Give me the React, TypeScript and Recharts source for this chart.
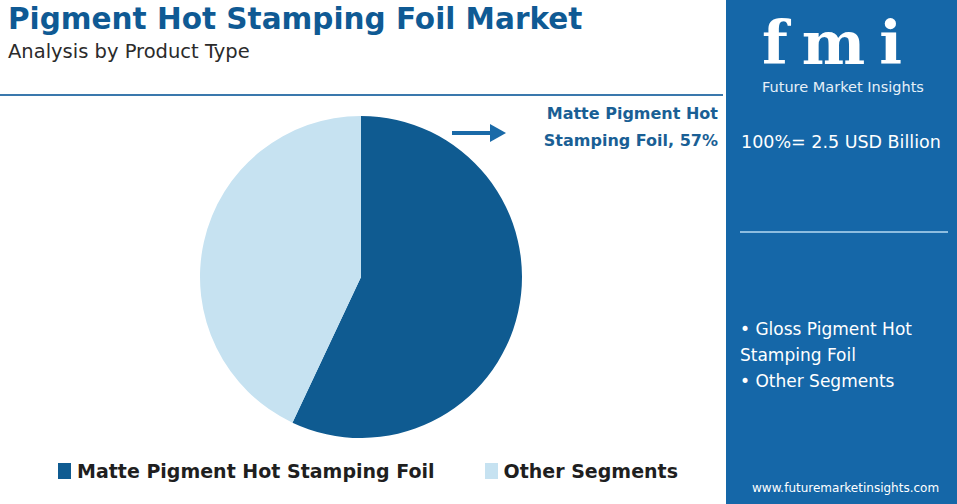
import { Cell, Pie, PieChart } from "recharts";

const segments = ["Matte Pigment Hot Stamping Foil", "Other Segments"];
const shares = [57, 43];
const sliceColors = ["#0f5b91", "#c6e2f1"];
const otherSegmentsList = ["Gloss Pigment Hot Stamping Foil", "Other Segments"];

const data = segments.map((name, i) => ({ name, value: shares[i] }));

const font = "'DejaVu Sans', sans-serif";

export default function App() {
  return (
    <div
      style={{
        position: "absolute",
        left: 0,
        top: 0,
        width: 957,
        height: 504,
        background: "#ffffff",
        overflow: "hidden",
        fontFamily: font,
      }}
    >
      <div
        style={{
          position: "absolute",
          left: 8,
          top: 2,
          fontSize: 29.5,
          fontWeight: 700,
          color: "#0f5a94",
          whiteSpace: "nowrap",
        }}
      >
        Pigment Hot Stamping Foil Market
      </div>
      <div
        style={{ position: "absolute", left: 8, top: 40, fontSize: 19.5, color: "#2b2b2b", whiteSpace: "nowrap" }}
      >
        Analysis by Product Type
      </div>
      <div
        style={{ position: "absolute", left: 0, top: 94, width: 723, height: 2, background: "#3a78ad" }}
      />

      <PieChart
        width={723}
        height={504}
        margin={{ top: 0, right: 0, bottom: 0, left: 0 }}
        style={{ position: "absolute", left: 0, top: 0 }}
      >
        <Pie
          data={data}
          dataKey="value"
          nameKey="name"
          cx={361}
          cy={277}
          outerRadius={161}
          startAngle={90}
          endAngle={-270}
          stroke="none"
          isAnimationActive={false}
        >
          {data.map((_, i) => (
            <Cell key={i} fill={sliceColors[i]} />
          ))}
        </Pie>
      </PieChart>

      <div style={{ position: "absolute", left: 58, top: 460, display: "flex" }}>
        {data.map((d, i) => (
          <div
            key={i}
            style={{ display: "flex", alignItems: "center", marginRight: i === 0 ? 50 : 0 }}
          >
            <span
              style={{
                width: 13,
                height: 16,
                background: sliceColors[i],
                display: "inline-block",
                marginRight: 6,
              }}
            />
            <span style={{ fontSize: 19, fontWeight: 700, color: "#1f1f1f", whiteSpace: "nowrap" }}>
              {d.name}
            </span>
          </div>
        ))}
      </div>

      <svg width={60} height={30} style={{ position: "absolute", left: 450, top: 118 }}>
        <line x1={2} y1={15} x2={44} y2={15} stroke="#1a6aa8" strokeWidth={4} />
        <polygon points="40,6 56,15 40,24" fill="#1a6aa8" />
      </svg>
      <div
        style={{
          position: "absolute",
          right: 957 - 718,
          top: 100,
          textAlign: "right",
          fontSize: 16,
          fontWeight: 700,
          color: "#1a5f95",
          lineHeight: "27px",
          whiteSpace: "nowrap",
        }}
      >
        Matte Pigment Hot
        <br />
        Stamping Foil, {shares[0]}%
      </div>

      <div
        style={{ position: "absolute", left: 726, top: 0, width: 231, height: 504, background: "#1567a8" }}
      >
        <svg width={231} height={84} style={{ position: "absolute", left: 0, top: 0 }}>
          <text
            x={36}
            y={64}
            fontFamily="'DejaVu Serif', serif"
            fontWeight={900}
            fontSize={60}
            fill="#ffffff"
            letterSpacing={14}
          >
            fmi
          </text>
        </svg>
        <div
          style={{
            position: "absolute",
            left: 36,
            top: 79,
            fontSize: 14.5,
            lineHeight: "16px",
            color: "#e6f0f8",
            whiteSpace: "nowrap",
          }}
        >
          Future Market Insights
        </div>
        <div
          style={{ position: "absolute", left: 15, top: 132, fontSize: 17.5, color: "#ffffff", whiteSpace: "nowrap" }}
        >
          100%= 2.5 USD Billion
        </div>
        <div
          style={{ position: "absolute", left: 14, top: 231, width: 208, height: 2, background: "#8dbde0" }}
        />
        <div
          style={{
            position: "absolute",
            left: 14,
            top: 316,
            width: 205,
            fontSize: 17,
            lineHeight: "26px",
            color: "#ffffff",
          }}
        >
          {otherSegmentsList.map((s, i) => (
            <div key={i}>{"• " + s}</div>
          ))}
        </div>
        <div
          style={{ position: "absolute", left: 26, top: 481, fontSize: 12, color: "#ffffff", whiteSpace: "nowrap" }}
        >
          www.futuremarketinsights.com
        </div>
      </div>
    </div>
  );
}
